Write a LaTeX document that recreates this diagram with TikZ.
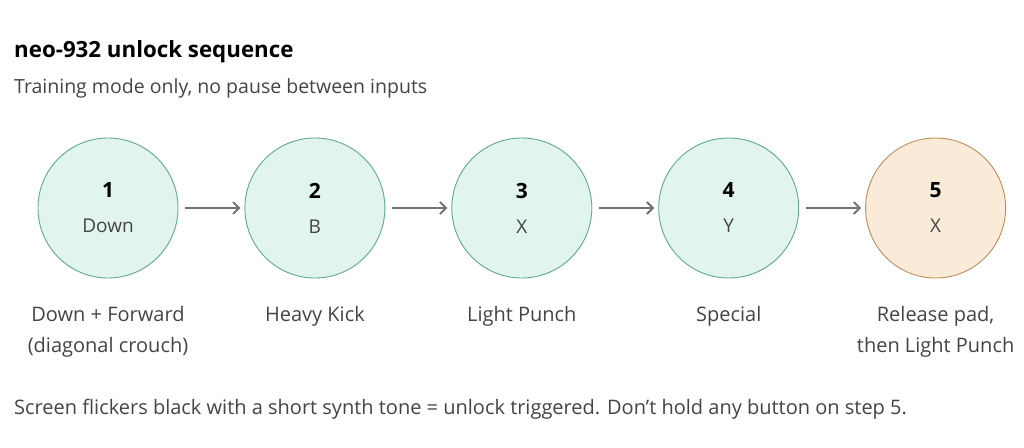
\documentclass[tikz,border=0pt]{standalone}
\usepackage{fontspec}
\setmainfont{Open Sans}
\usetikzlibrary{arrows.meta,positioning}
\definecolor{stepfill}{HTML}{E1F5EE}
\definecolor{stepline}{HTML}{5FA98F}
\definecolor{lastfill}{HTML}{FAEBD9}
\definecolor{lastline}{HTML}{B98F5C}
\definecolor{textgray}{HTML}{444444}

\begin{document}
\begin{tikzpicture}[x=1pt, y=-1pt,
  stepnode/.style={circle, draw=stepline, fill=stepfill, line width=0.9pt, minimum size=140pt, inner sep=0pt, align=center, text=textgray, font=\fontsize{19}{22}\selectfont},
  lastnode/.style={stepnode, draw=lastline, fill=lastfill},
  caption/.style={align=center, anchor=north, text=textgray, font=\fontsize{20}{31}\selectfont},
  arr/.style={-{Straight Barb[length=6pt, width=12pt, line width=2pt]}, line width=2pt, black!55, shorten >=4pt, shorten <=7pt}
]
  \useasboundingbox (0,0) rectangle (1024,447);
  \node[anchor=base west, font=\fontsize{22.3}{26}\selectfont\bfseries, inner sep=0pt] (title) at (14,57) {neo-932 unlock sequence};
  \node[anchor=base west, font=\fontsize{19.5}{22}\selectfont, text=textgray, inner sep=0pt] (sub) at (14,93) {Training mode only, no pause between inputs};

  \node[stepnode] (s1) at (108,208) {{\fontsize{21}{24}\selectfont\bfseries\color{black}1}\\[13pt]Down};
  \node[stepnode, right=66pt of s1] (s2) {{\fontsize{21}{24}\selectfont\bfseries\color{black}2}\\[13pt]B};
  \node[stepnode, right=66pt of s2] (s3) {{\fontsize{21}{24}\selectfont\bfseries\color{black}3}\\[13pt]X};
  \node[stepnode, right=66pt of s3] (s4) {{\fontsize{21}{24}\selectfont\bfseries\color{black}4}\\[13pt]Y};
  \node[lastnode, right=66pt of s4] (s5) {{\fontsize{21}{24}\selectfont\bfseries\color{black}5}\\[13pt]X};

  \node[caption, below=24pt of s1] (c1) {Down + Forward\\(diagonal crouch)};
  \node[caption, below=24pt of s2] (c2) {Heavy Kick};
  \node[caption, below=24pt of s3] (c3) {Light Punch};
  \node[caption, below=24pt of s4] (c4) {Special};
  \node[caption, below=24pt of s5] (c5) {Release pad,\\then Light Punch};

  \draw[arr] (s1) -- (s2);
  \draw[arr] (s2) -- (s3);
  \draw[arr] (s3) -- (s4);
  \draw[arr] (s4) -- (s5);

  \node[anchor=base west, font=\fontsize{20}{22}\selectfont, text=textgray, inner sep=0pt] (note) at (14,414) {Screen flickers black with a short synth tone = unlock triggered. Don't hold any button on step 5.};
\end{tikzpicture}
\end{document}
